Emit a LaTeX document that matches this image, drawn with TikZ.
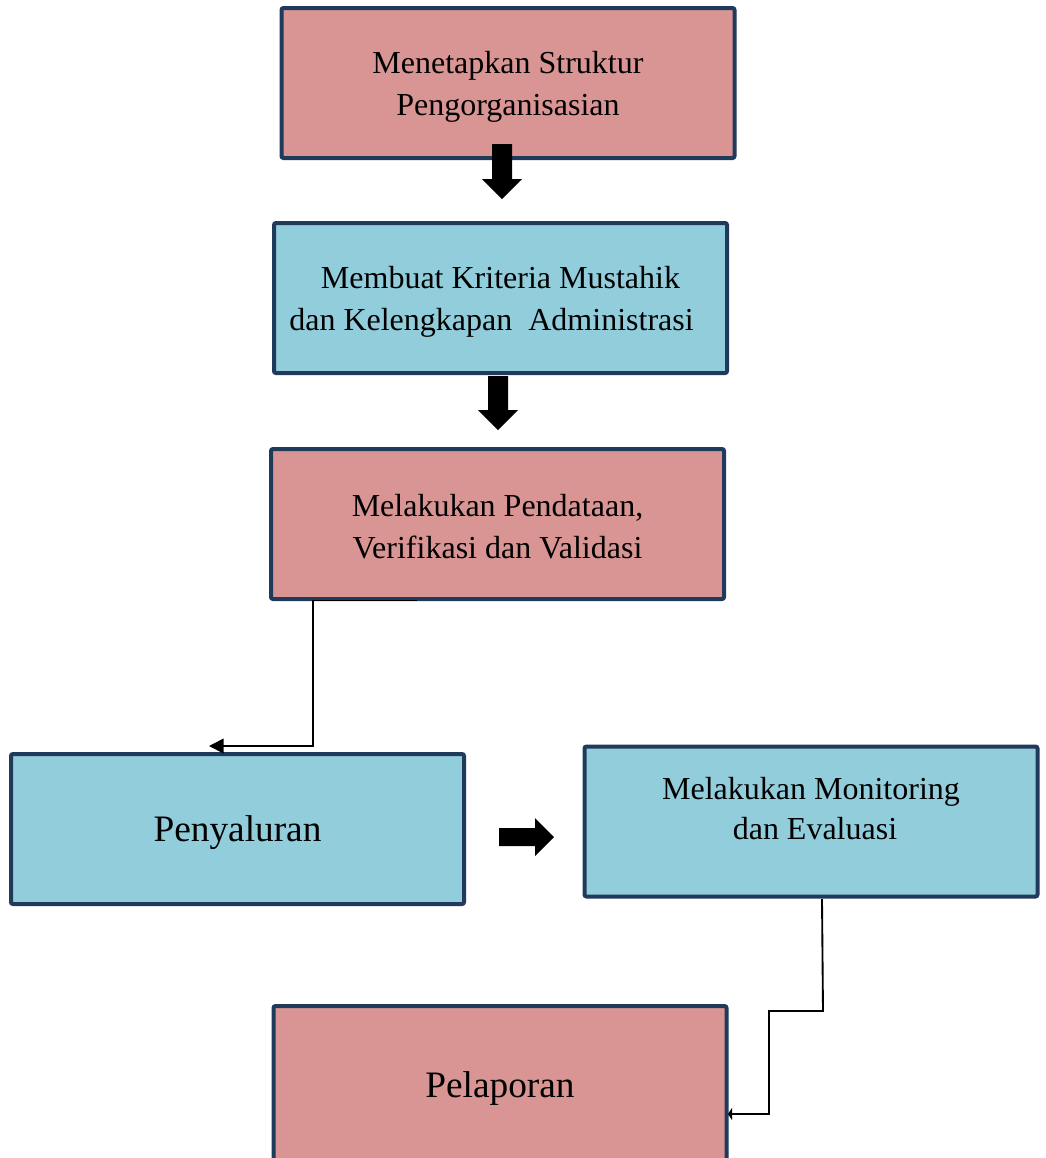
\documentclass[tikz,border=0pt]{standalone}
\usepackage{fontspec}
\setmainfont{Liberation Serif}
\usetikzlibrary{arrows.meta}
\definecolor{boxpink}{HTML}{D99594}
\definecolor{boxblue}{HTML}{92CDDC}
\definecolor{boxline}{HTML}{1F3A5A}
\begin{document}
\begin{tikzpicture}[x=0.75pt,y=-0.75pt,
  box/.style={draw=boxline,line width=3pt,rounded corners=1.5pt,minimum width=453*0.75pt,minimum height=150*0.75pt,inner sep=0pt,align=center,font=\fontsize{24pt}{31.5pt}\selectfont},
  pinkbox/.style={box,fill=boxpink},
  bluebox/.style={box,fill=boxblue},
  boxtext/.style={align=center,inner sep=0pt,font=\fontsize{24pt}{31.5pt}\selectfont},
  bigtext/.style={inner sep=0pt,font=\fontsize{28pt}{34pt}\selectfont},
  conn/.style={line width=1.4pt},
  blockarrow/.style={fill=black,draw=none}]
\useasboundingbox (0,0) rectangle (1046,1158);
\clip (0,0) rectangle (1046,1158);

\node[pinkbox] (b1) at (508,83) {};
\node[boxtext] (t1) at (508,87) {Menetapkan Struktur\\Pengorganisasian};
\node[bluebox] (b2) at (500.5,298) {};
\node[boxtext] (t2) at (500.5,302) {Membuat Kriteria Mustahik\\dan Kelengkapan\ \ Administrasi\hspace*{13.5pt}};
\node[pinkbox] (b3) at (497.5,524) {};
\node[boxtext] (t3) at (497.5,527) {Melakukan Pendataan,\\Verifikasi dan Validasi};
\node[bluebox] (b4) at (237.5,829) {};
\node[bigtext] (t4) at (237.5,833) {Penyaluran};
\node[bluebox] (b5) at (811,821.5) {};
\node[boxtext,font=\fontsize{24pt}{30pt}\selectfont] (t5) at (811,809) {Melakukan Monitoring\\\hspace*{6pt}dan Evaluasi};
\node[pinkbox,minimum height=160*0.75pt] (b6) at (500,1086) {};
\node[bigtext] (t6) at (500,1089) {Pelaporan};

% block arrows
\fill[blockarrow] (492,144) -- (512,144) -- (512,179) -- (522,179) -- (502,199) -- (482,179) -- (492,179) -- cycle;
\fill[blockarrow] (488,376) -- (508,376) -- (508,410) -- (518,410) -- (498,430) -- (478,410) -- (488,410) -- cycle;
\fill[blockarrow] (499,828) -- (535,828) -- (535,818) -- (554,837) -- (535,856) -- (535,846) -- (499,846) -- cycle;

% thin connectors
\coordinate (c1s) at (417,600.5);
\coordinate (c1a) at (313,600.5);
\coordinate (c1b) at (313,746);
\coordinate (c1e) at (209,746);
\draw[conn,-{Triangle[length=11pt,width=11pt]}] (c1s) -- (c1a) -- (c1b) -- (c1e);

\coordinate (c2s) at (822,899);
\coordinate (c2a) at (823,1011);
\coordinate (c2b) at (769,1011);
\coordinate (c2c) at (769,1114);
\coordinate (c2e) at (728,1114);
\draw[conn,-{Triangle[length=3pt,width=9pt]}] (c2s) -- (c2a) -- (c2b) -- (c2c) -- (c2e);
\end{tikzpicture}
\end{document}
